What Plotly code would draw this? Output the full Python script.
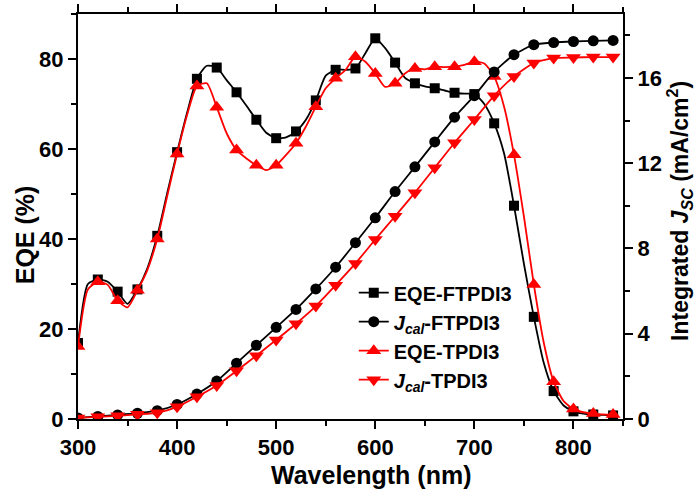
import plotly.graph_objects as go

# EQE spectra sampled every 10 nm (curves)
wavelength = list(range(300, 850, 10))
eqe_ftpdi3 = [16.9, 30.0, 31.0, 30.5, 28.3, 25.6, 28.8, 33.5, 40.7, 50.2,
              59.3, 68.0, 75.6, 78.5, 78.1, 75.3, 72.6, 69.6, 66.5, 63.6,
              62.4, 62.6, 63.9, 66.5, 70.8, 76.3, 77.6, 77.6, 77.9, 81.3,
              84.6, 82.4, 79.2, 75.8, 74.6, 73.9, 73.5, 73.0, 72.5, 72.3,
              72.2, 70.0, 65.7, 59.0, 47.4, 34.5, 22.7, 12.5, 6.2, 3.0,
              1.7, 1.2, 1.0, 0.9, 0.8]
eqe_tpdi3 = [16.1, 28.8, 30.5, 29.8, 26.3, 24.8, 28.6, 33.1, 40.0, 49.5,
             58.9, 67.5, 74.0, 74.6, 69.3, 63.5, 59.8, 57.9, 56.4, 55.3,
             56.4, 58.7, 61.3, 65.0, 69.4, 73.5, 75.7, 77.6, 80.5, 79.4,
             76.8, 73.8, 74.6, 76.8, 77.9, 77.7, 78.3, 78.2, 78.3, 78.7,
             79.4, 79.0, 76.1, 69.4, 58.7, 45.0, 29.9, 17.0, 8.3, 4.0,
             2.2, 1.5, 1.2, 1.0, 1.0]

# Integrated current density, every 20 nm
wavelength_j = list(range(300, 850, 20))
jcal_ftpdi3 = [0.05, 0.12, 0.19, 0.27, 0.39, 0.68, 1.17, 1.78, 2.62, 3.46,
               4.30, 5.14, 6.10, 7.12, 8.27, 9.44, 10.67, 11.83, 13.00, 14.16,
               15.17, 16.28, 17.09, 17.56, 17.66, 17.71, 17.74, 17.76]
jcal_tpdi3 = [0.05, 0.10, 0.15, 0.22, 0.29, 0.57, 1.04, 1.57, 2.26, 2.97,
              3.71, 4.47, 5.30, 6.28, 7.30, 8.42, 9.51, 10.62, 11.79, 12.96,
              14.05, 15.17, 16.07, 16.70, 16.93, 16.96, 16.98, 16.98]

x_ticks = [300, 400, 500, 600, 700, 800]
y_ticks = [0, 20, 40, 60, 80]
y2_ticks = [0, 4, 8, 12, 16]

BLACK = "#000000"
RED = "#ff0000"
FONT = "Liberation Sans"

fig = go.Figure()


def add_eqe(name, values, color, symbol, size, rank):
    # smooth curve through every sample
    fig.add_trace(go.Scatter(x=wavelength, y=values, mode="lines",
                             line=dict(color=color, width=1.8, shape="spline", smoothing=0.6),
                             showlegend=False, hoverinfo="skip"))
    # symbols on every second sample
    fig.add_trace(go.Scatter(x=wavelength[::2], y=values[::2], mode="markers",
                             marker=dict(color=color, symbol=symbol, size=size),
                             showlegend=False))
    # legend entry
    fig.add_trace(go.Scatter(x=[None], y=[None], mode="lines+markers", name=name,
                             line=dict(color=color, width=1.8),
                             marker=dict(color=color, symbol=symbol, size=size),
                             legendrank=rank))


def add_j(name, values, color, symbol, size, rank):
    fig.add_trace(go.Scatter(x=wavelength_j, y=values, mode="lines+markers", name=name,
                             yaxis="y2",
                             line=dict(color=color, width=1.8, shape="spline", smoothing=0.6),
                             marker=dict(color=color, symbol=symbol, size=size),
                             legendrank=rank))


add_eqe("EQE-FTPDI3", eqe_ftpdi3, BLACK, "square", 10, 1)
add_j("<i>J</i><sub><i>cal</i></sub>-FTPDI3", jcal_ftpdi3, BLACK, "circle", 11, 2)
add_eqe("EQE-TPDI3", eqe_tpdi3, RED, "triangle-up", 13, 3)
add_j("<i>J</i><sub><i>cal</i></sub>-TPDI3", jcal_tpdi3, RED, "triangle-down", 13, 4)

axis_common = dict(showline=True, linecolor=BLACK, linewidth=2, ticks="outside",
                   ticklen=8, tickwidth=2, tickcolor=BLACK, showgrid=False,
                   zeroline=False, automargin=False,
                   tickfont=dict(family=FONT, size=22, color=BLACK, weight="bold"))

fig.update_layout(
    width=698, height=491,
    margin=dict(l=78, r=75, t=14, b=72, autoexpand=False),
    paper_bgcolor="white", plot_bgcolor="white",
    font=dict(family=FONT, color=BLACK),
    xaxis=dict(range=[300, 850], tickvals=x_ticks, mirror="ticks",
               minor=dict(dtick=50, tick0=0, ticks="outside", ticklen=5, tickwidth=2,
                          tickcolor=BLACK),
               **axis_common),
    yaxis=dict(range=[0, 90], tickvals=y_ticks,
               minor=dict(dtick=10, tick0=0, ticks="outside", ticklen=5, tickwidth=2,
                          tickcolor=BLACK),
               **axis_common),
    yaxis2=dict(range=[0, 19], tickvals=y2_ticks, overlaying="y", side="right",
                minor=dict(dtick=2, tick0=0, ticks="outside", ticklen=5, tickwidth=2,
                           tickcolor=BLACK),
                **axis_common),
    legend=dict(x=0.506, y=0.36, xanchor="left", yanchor="top",
                bgcolor="rgba(0,0,0,0)", borderwidth=0, tracegroupgap=0,
                font=dict(family=FONT, size=20, color=BLACK, weight="bold")),
    annotations=[
        dict(text="<b>Wavelength (nm)</b>", xref="paper", yref="paper",
             x=0.537, y=-0.138, xanchor="center", yanchor="middle", showarrow=False,
             font=dict(family=FONT, size=25, color=BLACK)),
        dict(text="<b>EQE (%)</b>", xref="paper", yref="paper", textangle=-90,
             x=-0.097, y=0.454, xanchor="center", yanchor="middle", showarrow=False,
             font=dict(family=FONT, size=25, color=BLACK)),
        dict(text="<b>Integrated <i>J</i><sub><i>SC</i></sub> (mA/cm<sup>2</sup>)</b>",
             xref="paper", yref="paper", textangle=-90,
             x=1.103, y=0.514, xanchor="center", yanchor="middle", showarrow=False,
             font=dict(family=FONT, size=23, color=BLACK)),
    ],
)

fig.write_html("out.html")
